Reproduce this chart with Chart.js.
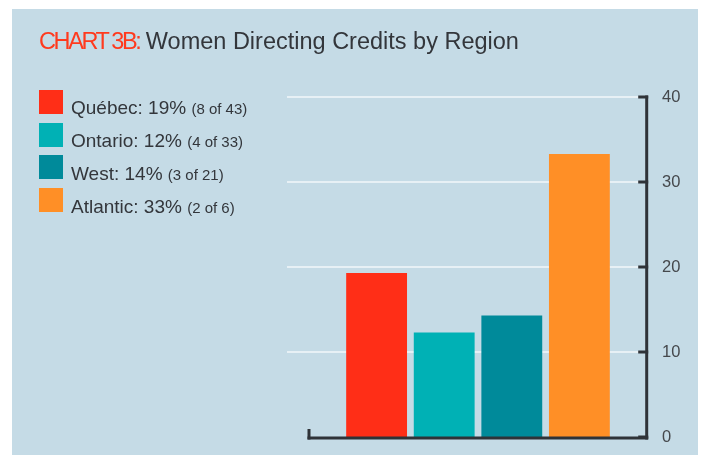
<!DOCTYPE html>
<html>
<head>
<meta charset="utf-8">
<script src="https://cdn.jsdelivr.net/npm/chart.js@4.4.1/dist/chart.umd.min.js"></script>
<style>
  html, body { margin: 0; padding: 0; background: #ffffff; }
  body { width: 704px; height: 462px; position: relative; overflow: hidden; font-family: "Liberation Sans", Arial, sans-serif; }
  #panel { position: absolute; left: 12px; top: 9px; width: 686px; height: 446px; background: #c5dbe6; }
  #chart { position: absolute; left: 0; top: 0; }
  #title { position: absolute; left: 39px; top: 30px; font-size: 23.5px; line-height: 23.5px; color: #33363b; white-space: nowrap; }
  #title .lead { color: #ff3a1e; letter-spacing: -2.4px; }
  .sw { position: absolute; left: 39px; width: 24px; height: 24px; }
  .lt { position: absolute; left: 71px; font-size: 19px; line-height: 19px; color: #33363b; white-space: nowrap; }
  .lt small { font-size: 15px; }
</style>
</head>
<body>
<div id="panel"></div>
<canvas id="chart" width="704" height="462"></canvas>
<div id="title"><span class="lead">CHART 3B:</span> Women Directing Credits by Region</div>
<div id="legend"></div>
<script>
// ---- data ----
const regions = ['Québec', 'Ontario', 'West', 'Atlantic'];
const shares = [19.3, 12.3, 14.3, 33.3];          // bar heights (%)
const shareLabels = ['19%', '12%', '14%', '33%'];
const counts = ['8 of 43', '4 of 33', '3 of 21', '2 of 6'];
const colors = ['#ff2e17', '#00b1b5', '#008a9a', '#ff8f26'];
const yTicks = [0, 10, 20, 30, 40];

// ---- legend (HTML text) ----
const legend = document.getElementById('legend');
regions.forEach((r, i) => {
  const top = 90 + i * 32.7;
  const sw = document.createElement('div');
  sw.className = 'sw';
  sw.style.top = top + 'px';
  sw.style.background = colors[i];
  legend.appendChild(sw);
  const t = document.createElement('div');
  t.className = 'lt';
  t.style.top = (top + 8.4) + 'px';
  t.innerHTML = r + ': ' + shareLabels[i] + ' <small>(' + counts[i] + ')</small>';
  legend.appendChild(t);
});

// ---- chart ----
// one empty slot on each side so the bars sit centred on the axis
const labels = [''].concat(regions, ['']);
const data = [null].concat(shares, [null]);
const barColors = ['rgba(0,0,0,0)'].concat(colors, ['rgba(0,0,0,0)']);

const AXIS = '#2f3338';
const decor = {
  id: 'decor',
  beforeDatasetsDraw(chart) {
    const ctx = chart.ctx, y = chart.scales.y, area = chart.chartArea;
    ctx.save();
    ctx.strokeStyle = '#f2f7fa';
    ctx.lineWidth = 1.4;
    yTicks.forEach(v => {
      if (v === 0) return;
      const py = y.getPixelForValue(v);
      ctx.beginPath();
      ctx.moveTo(287, py);
      ctx.lineTo(area.right, py);
      ctx.stroke();
    });
    ctx.restore();
  },
  afterDatasetsDraw(chart) {
    const ctx = chart.ctx, y = chart.scales.y, area = chart.chartArea;
    const base = y.getPixelForValue(0) + 1;
    const ax = area.right - 0.3;
    ctx.save();
    ctx.strokeStyle = AXIS;
    ctx.lineWidth = 3;
    ctx.lineCap = 'butt';
    // vertical axis
    ctx.beginPath();
    ctx.moveTo(ax, y.getPixelForValue(40) - 1.5);
    ctx.lineTo(ax, base + 1.5);
    ctx.stroke();
    // tick marks pointing inward
    yTicks.forEach(v => {
      const py = y.getPixelForValue(v);
      ctx.beginPath();
      ctx.moveTo(ax - 8.5, py);
      ctx.lineTo(ax + 1.5, py);
      ctx.stroke();
    });
    // horizontal axis
    ctx.beginPath();
    ctx.moveTo(area.left - 1.5, base);
    ctx.lineTo(ax + 1.5, base);
    ctx.stroke();
    ctx.beginPath();
    ctx.moveTo(area.left, base + 1.5);
    ctx.lineTo(area.left, base - 9);
    ctx.stroke();
    ctx.restore();
  }
};

new Chart(document.getElementById('chart'), {
  type: 'bar',
  data: {
    labels: labels,
    datasets: [{
      data: data,
      backgroundColor: barColors,
      borderWidth: 0,
      barPercentage: 0.9,
      categoryPercentage: 1.0
    }]
  },
  options: {
    responsive: false,
    animation: false,
    events: [],
    layout: { padding: { left: 309, top: 97, bottom: 25, right: 0 } },
    plugins: { legend: { display: false }, tooltip: { enabled: false }, title: { display: false } },
    scales: {
      x: { type: 'category', offset: false, display: false },
      y: {
        position: 'right',
        min: 0, max: 40,
        afterFit(scale) { scale.width = 57; },
        afterBuildTicks(scale) { scale.ticks = yTicks.map(v => ({ value: v })); },
        grid: { display: false, drawTicks: false },
        border: { display: false },
        ticks: {
          padding: 15,
          color: '#45484c',
          font: { family: '"Liberation Sans", Arial, sans-serif', size: 16.5 }
        }
      }
    }
  },
  plugins: [decor]
});
</script>
</body>
</html>
